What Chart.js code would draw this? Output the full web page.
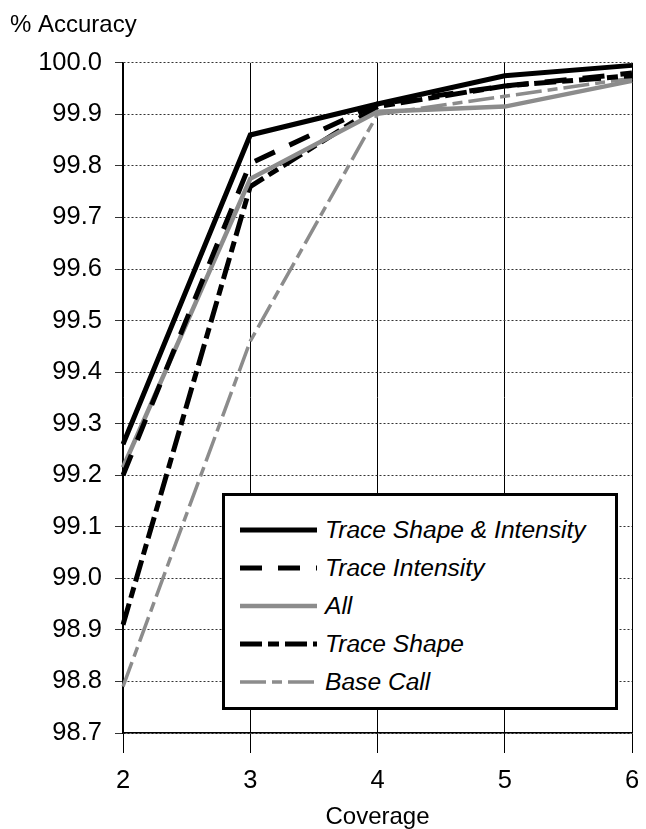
<!DOCTYPE html>
<html>
<head>
<meta charset="utf-8">
<script src="https://cdn.jsdelivr.net/npm/chart.js@4/dist/chart.umd.min.js"></script>
<style>
  body { margin: 0; background: #fff; }
  #wrap { position: relative; width: 646px; height: 829px; }
  #legendBox {
    position: absolute; left: 222px; top: 493px; width: 396px; height: 217px;
    box-sizing: border-box; border: 3px solid #000; background: #fff;
    padding: 15px 0 0 15px;
    font-family: "Liberation Sans", Arial, sans-serif; font-style: italic; font-size: 24.6px; color: #000;
  }
  .legend-row { display: flex; align-items: center; height: 38px; }
  .legend-row svg { margin-right: 8px; flex: none; }
</style>
</head>
<body>
<div id="wrap">
  <canvas id="accChart"></canvas>
  <div id="legendBox"></div>
</div>
<script>
// --- DATA ---
const coverage = [2, 3, 4, 5, 6];
const traceShapeIntensity = [99.26, 99.86, 99.92, 99.975, 99.995];
const traceIntensity = [99.20, 99.805, 99.92, 99.955, 99.98];
const allFeatures = [99.215, 99.775, 99.905, 99.915, 99.965];
const traceShape = [98.91, 99.76, 99.915, 99.955, 99.975];
const baseCall = [98.79, 99.46, 99.90, 99.935, 99.97];
const seriesLabels = ['Trace Shape & Intensity', 'Trace Intensity', 'All', 'Trace Shape', 'Base Call'];
const yTicks = [98.7, 98.8, 98.9, 99.0, 99.1, 99.2, 99.3, 99.4, 99.5, 99.6, 99.7, 99.8, 99.9, 100.0];

const GRAY = '#8c8c8c';
const styles = [
    { color: '#000', width: 5, dash: [] },
    { color: '#000', width: 5, dash: [22, 16] },
    { color: GRAY, width: 4.5, dash: [] },
    { color: '#000', width: 5, dash: [22, 6, 11, 6] },
    { color: GRAY, width: 3.5, dash: [26, 6, 10, 6] }
];
const seriesValues = [traceShapeIntensity, traceIntensity, allFeatures, traceShape, baseCall];

const datasets = seriesValues.map((vals, i) => ({
    label: seriesLabels[i],
    data: vals,
    borderColor: styles[i].color,
    borderWidth: styles[i].width,
    borderDash: styles[i].dash,
    pointRadius: 0,
    tension: 0,
    fill: false
}));

const tickFont = { family: "'Liberation Sans', Arial, sans-serif", size: 25.5 };
const labelFont = { family: "'Liberation Sans', Arial, sans-serif", size: 24, lineHeight: 1 };

new Chart(document.getElementById('accChart'), {
    type: 'line',
    data: { labels: coverage, datasets: datasets },
    options: {
        responsive: true, maintainAspectRatio: false, animation: false,
        layout: { padding: { left: 10, right: 14, top: 0, bottom: 0 } },
        plugins: {
            legend: { display: false },
            tooltip: { enabled: false },
            title: {
                display: true, text: '% Accuracy', align: 'start', color: '#000',
                font: { family: "'Liberation Sans', Arial, sans-serif", size: 24, weight: 'normal', lineHeight: 1.2 },
                padding: { top: 11, bottom: 23 }
            }
        },
        scales: {
            x: {
                grid: { color: '#000', lineWidth: 1, tickLength: 20 },
                border: { color: '#000', width: 1.5 },
                ticks: { color: '#000', font: tickFont, padding: 13, maxRotation: 0 },
                title: { display: true, text: 'Coverage', color: '#000', font: labelFont, padding: { top: 0, bottom: 0 } },
                afterFit: s => { s.height = 96; s.paddingLeft = 0; s.paddingRight = 0; }
            },
            y: {
                min: 98.7, max: 100,
                afterBuildTicks: s => { s.ticks = yTicks.map(v => ({ value: v })); },
                grid: { color: '#333', lineWidth: 1, tickLength: 8 },
                border: { color: '#000', width: 1.5, dash: [2, 2] },
                ticks: { color: '#000', font: tickFont, padding: 13, callback: v => Number(v).toFixed(1) },
                afterFit: s => { s.width = 113; }
            }
        }
    }
});

// --- LEGEND (HTML) ---
const legendBox = document.getElementById('legendBox');
seriesLabels.forEach((lbl, i) => {
    const st = styles[i];
    const row = document.createElement('div');
    row.className = 'legend-row';
    row.innerHTML = `<svg width="77" height="10"><line x1="0" y1="5" x2="77" y2="5" stroke="${st.color}" stroke-width="${st.width}" stroke-dasharray="${st.dash.join(' ') || 'none'}"/></svg><span>${lbl.replace('&', '&amp;')}</span>`;
    legendBox.appendChild(row);
});
</script>
</body>
</html>
